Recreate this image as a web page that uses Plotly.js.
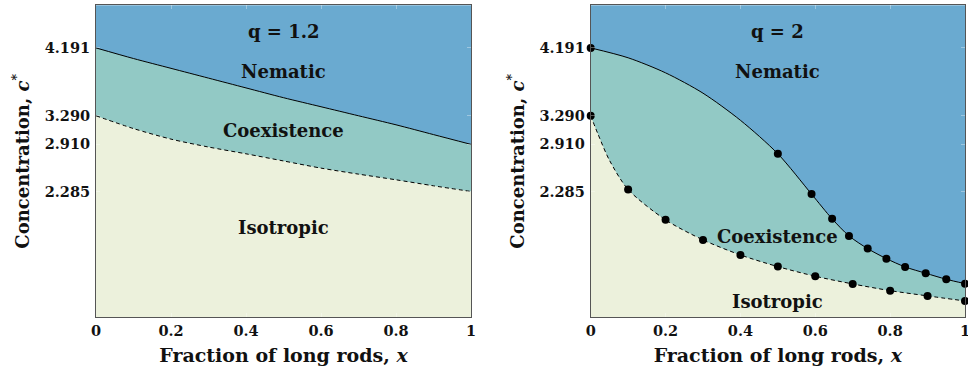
<!DOCTYPE html>
<html>
<head>
<meta charset="utf-8">
<script src="https://cdn.plot.ly/plotly-3.0.1.min.js"></script>
<style>html,body{margin:0;padding:0;background:#fff;}#chart{width:968px;height:372px;}</style>
</head>
<body>
<div id="chart"></div>
<script>
// ---- data ----
const yTickVals = [2.285, 2.910, 3.290, 4.191];
const yTickText = ["2.285", "2.910", "3.290", "4.191"];
const xTickVals = [0, 0.2, 0.4, 0.6, 0.8, 1];
const xTickText = ["0", "0.2", "0.4", "0.6", "0.8", "1"];

// q = 1.2 panel
const leftX = [0, 0.1, 0.2, 0.3, 0.4, 0.5, 0.6, 0.7, 0.8, 0.9, 1.0];
const leftNematic = [4.191, 4.05, 3.92, 3.79, 3.66, 3.53, 3.41, 3.29, 3.17, 3.04, 2.910];
const leftIsotropic = [3.290, 3.12, 2.98, 2.875, 2.785, 2.69, 2.595, 2.515, 2.44, 2.36, 2.285];

// q = 2 panel: smooth boundary curves
const rightUpperX = [0, 0.1, 0.2, 0.3, 0.4, 0.5, 0.59, 0.645, 0.69, 0.74, 0.79, 0.84, 0.895, 0.95, 1.0];
const rightUpperC = [4.191, 4.06, 3.86, 3.59, 3.23, 2.785, 2.250, 1.921, 1.695, 1.526, 1.393, 1.283, 1.199, 1.119, 1.061];
const rightLowerX = [0, 0.02, 0.05, 0.1, 0.2, 0.3, 0.4, 0.5, 0.6, 0.7, 0.8, 0.9, 1.0];
const rightLowerC = [3.290, 3.04, 2.70, 2.311, 1.908, 1.642, 1.442, 1.287, 1.159, 1.057, 0.968, 0.898, 0.831];
// q = 2 panel: computed points (dots)
const dotsUpperX = [0, 0.5, 0.59, 0.645, 0.69, 0.74, 0.79, 0.84, 0.895, 0.95, 1.0];
const dotsUpperC = [4.191, 2.785, 2.250, 1.921, 1.695, 1.526, 1.393, 1.283, 1.199, 1.119, 1.061];
const dotsLowerX = [0, 0.1, 0.2, 0.3, 0.4, 0.5, 0.6, 0.7, 0.8, 0.9, 1.0];
const dotsLowerC = [3.290, 2.311, 1.908, 1.642, 1.442, 1.287, 1.159, 1.057, 0.968, 0.898, 0.831];

const panelTitles = ["q = 1.2", "q = 2"];
const regionNames = ["Nematic", "Coexistence", "Isotropic"];

// ---- styles ----
const NEM = "#6aaad0", COEX = "#92c9c5", ISO = "#ecf1dc";
const FONT = "DejaVu Serif";

function fillPair(x, upper, lowerX, lower, xa, ya, shape) {
  return [
    {x: x, y: upper, xaxis: xa, yaxis: ya, type: "scatter", mode: "lines",
     fill: "tozeroy", fillcolor: COEX,
     line: {color: "#000", width: 1, shape: shape, smoothing: 0.8}, hoverinfo: "skip", showlegend: false},
    {x: lowerX, y: lower, xaxis: xa, yaxis: ya, type: "scatter", mode: "lines",
     fill: "tozeroy", fillcolor: ISO,
     line: {color: "#000", width: 1, dash: "4px,3px", shape: shape, smoothing: 0.8}, hoverinfo: "skip", showlegend: false}
  ];
}

const traces = [].concat(
  fillPair(leftX, leftNematic, leftX, leftIsotropic, "x", "y", "spline"),
  fillPair(rightUpperX, rightUpperC, rightLowerX, rightLowerC, "x2", "y2", "spline"),
  [
    {x: dotsUpperX, y: dotsUpperC, xaxis: "x2", yaxis: "y2", type: "scatter", mode: "markers",
     marker: {color: "#000", size: 8}, cliponaxis: false, hoverinfo: "skip", showlegend: false},
    {x: dotsLowerX, y: dotsLowerC, xaxis: "x2", yaxis: "y2", type: "scatter", mode: "markers",
     marker: {color: "#000", size: 8}, cliponaxis: false, hoverinfo: "skip", showlegend: false}
  ]
);

const yRange = [0.614, 4.757];
const tickFont = {family: FONT, size: 14.5, color: "#111", weight: "bold"};
const xTitleFont = {family: FONT, size: 19, color: "#111", weight: "bold"};
const yTitleFont = {family: FONT, size: 18, color: "#111", weight: "bold"};

function xAxis(domain, anchor) {
  return {domain: domain, anchor: anchor, range: [0, 1], tickmode: "array",
    tickvals: xTickVals, ticktext: xTickText, tickfont: tickFont, ticklabeloverflow: "allow",
    ticks: "inside", ticklen: 4, tickcolor: "rgba(255,255,255,0.35)", mirror: "ticks",
    showline: true, linecolor: "#555", linewidth: 1, showgrid: false, zeroline: false,
    title: {text: "Fraction of long rods, <i>x</i>", font: xTitleFont, standoff: 10}};
}
function yAxis(domain, anchor) {
  return {domain: domain, anchor: anchor, range: yRange, tickmode: "array",
    tickvals: yTickVals, ticktext: yTickText, tickfont: tickFont, ticklabeloverflow: "allow",
    ticklabelstandoff: 2,
    ticks: "inside", ticklen: 4, tickcolor: "rgba(255,255,255,0.35)", mirror: "ticks",
    showline: true, linecolor: "#555", linewidth: 1, showgrid: false, zeroline: false,
    title: {text: "Concentration, <i>c</i><sup>*</sup>", font: yTitleFont, standoff: 10}};
}

const yDom = [1 - 317.3 / 372, 1 - 5.3 / 372];
const annFont = {family: FONT, size: 18, color: "#111", weight: "bold"};
function label(text, xref, yref, y) {
  return {text: text, xref: xref, yref: yref, x: 0.5, y: y, showarrow: false, font: annFont,
    xanchor: "center", yanchor: "middle"};
}
function paperY(px) { return 1 - px / 372; }

const annotations = [
  label(panelTitles[0], "x domain", "paper", paperY(31)),
  label(regionNames[0], "x domain", "paper", paperY(71)),
  label(regionNames[1], "x domain", "paper", paperY(130)),
  label(regionNames[2], "x domain", "paper", paperY(227)),
  label(panelTitles[1], "x2 domain", "paper", paperY(31)),
  label(regionNames[0], "x2 domain", "paper", paperY(71)),
  label(regionNames[1], "x2 domain", "paper", paperY(236)),
  label(regionNames[2], "x2 domain", "paper", paperY(301))
];

const layout = {
  width: 968, height: 372,
  margin: {l: 0, r: 0, t: 0, b: 0},
  paper_bgcolor: "#fff", plot_bgcolor: NEM,
  showlegend: false,
  xaxis: xAxis([96 / 968, 471 / 968], "y"),
  yaxis: yAxis(yDom, "x"),
  xaxis2: xAxis([590.7 / 968, 965 / 968], "y2"),
  yaxis2: yAxis(yDom, "x2"),
  annotations: annotations
};

Plotly.newPlot("chart", traces, layout, {displayModeBar: false, staticPlot: true});
</script>
</body>
</html>
